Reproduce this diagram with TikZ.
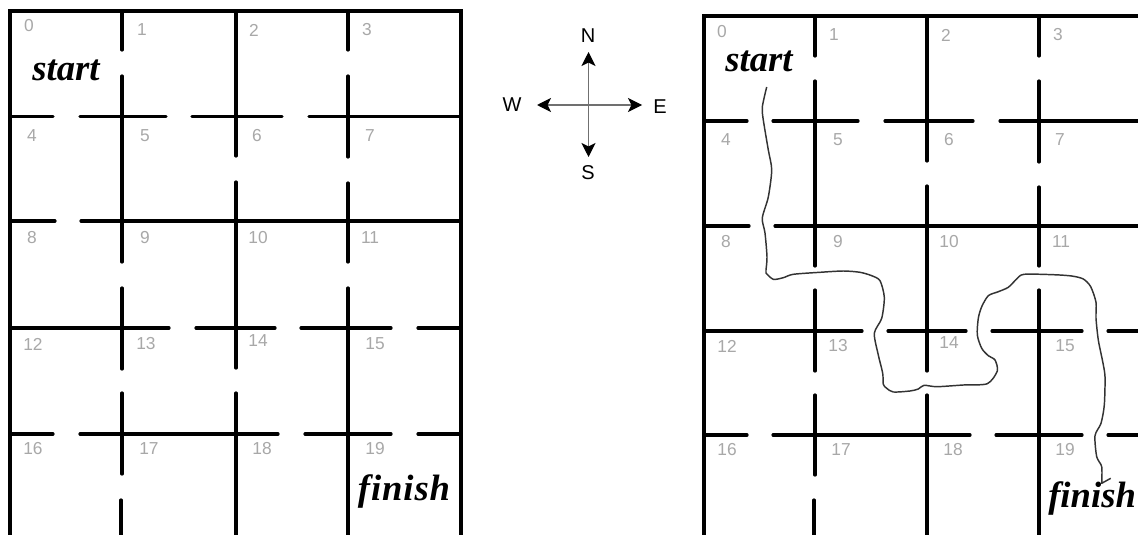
\documentclass[tikz,border=0pt]{standalone}
\usepackage{fontspec}
\setmainfont{Liberation Sans}
\newfontfamily\tagfont{Liberation Serif}
\newfontfamily\widetagfont[LetterSpace=2.5]{Liberation Serif}
\usetikzlibrary{arrows.meta}
\definecolor{ink}{HTML}{000000}
\definecolor{mute}{HTML}{A8A8A8}
\definecolor{trail}{HTML}{333333}
\definecolor{axis}{HTML}{707070}
\tikzset{
  wall/.style={ink,line width=2.4pt,line cap=round},
  cellno/.style={text=mute,font=\fontsize{13}{13}\selectfont,inner sep=0pt},
  tag/.style={text=ink,font=\tagfont\fontsize{27.5}{27.5}\selectfont\bfseries\itshape,inner sep=0pt,anchor=base},
  widetag/.style={tag,font=\widetagfont\fontsize{27.5}{27.5}\selectfont\bfseries\itshape},
  dirlabel/.style={text=ink,font=\fontsize{15}{15}\selectfont,inner sep=0pt},
  dirarrow/.style={axis,line width=0.9pt,-{Stealth[ink,length=10.5pt,width=10.5pt,inset=2.6pt]}}
}
\begin{document}
\begin{tikzpicture}[x=0.75pt,y=-0.75pt]
\useasboundingbox (0,0) rectangle (1138,535);
\fill[white] (0,0) rectangle (1138,535);
\draw[wall] (10,535) -- (10,11) -- (461,11) -- (461,535);
\foreach \y/\a/\b in {116.5/10/53,116.5/80/166,116.5/192/282,116.5/309/461,
    221/10/55,221/81/461,
    328/10/169,328/196/275,328/301/391,328/418/461,
    434/10/53,434/80/278,434/305/391,434/418/461}{
  \draw[wall] (\a,\y) -- (\b,\y);
}
\foreach \x/\a/\b in {122/11/50,122/76/262,122/288/369,122/393/474,121/500/535,
    236/11/156,236/182/368,236/393/535,
    348/11/50,348/76/157,348/183/262,348/288/535}{
  \draw[wall] (\x,\a) -- (\x,\b);
}
\foreach \n/\x/\y in {0/29/26,1/142/30,2/254/30,3/367/30,4/32/136,5/145/136,6/257/136,7/370/136,
    8/32/238,9/145/238,10/258/238,11/370/238,12/33/344,13/146/344,14/258/341,15/375/344,
    16/33/449,17/149/449,18/262/449,19/375/449}{
  \node[cellno] (lcell\n) at (\x,\y) {\n};
}
\node[tag] (lstart) at (66,80) {start};
\node[widetag] (lfinish) at (404,500) {finish};
\coordinate (hub) at (588.5,105);
\coordinate (tipn) at (588.5,52);
\coordinate (tips) at (588.5,157);
\coordinate (tipw) at (537,105);
\coordinate (tipe) at (642,105);
\foreach \t in {tipn,tips,tipw,tipe}{
  \draw[dirarrow] (hub) -- (\t);
}
\node[dirlabel] (north) at (588,36) {N};
\node[dirlabel] (south) at (588,173) {S};
\node[dirlabel] (west) at (512,105) {W};
\node[dirlabel] (east) at (660,107) {E};
\draw[wall] (704,535) -- (704,16) -- (1145,16);
\foreach \y/\a/\b in {121/704/747,121/773/858,121/885/973,121/1000/1145,
    226/704/749,226/775/1145,
    331/704/862,331/888/966,331/992/1082,331/1108/1145,
    435/704/747,435/773/970,435/996/1082,435/1108/1145}{
  \draw[wall] (\a,\y) -- (\b,\y);
}
\foreach \x/\a/\b in {815/16/56,815/81/266,815/290/371,815/395/475,814/500/540,
    927/16/161,927/186/371,927/395/540,
    1039/16/56,1039/81/162,1039/187/266,1039/290/540}{
  \draw[wall] (\x,\a) -- (\x,\b);
}
\foreach \n/\x/\y in {0/722/32,1/834/35,2/946/35,3/1058/35,4/726/140,5/838/140,6/949/140,7/1060/140,
    8/726/242,9/838/242,10/949/242,11/1061/242,12/727/346,13/838/346,14/949/343,15/1065/346,
    16/727/450,17/841/450,18/953/450,19/1065/450}{
  \node[cellno] (rcell\n) at (\x,\y) {\n};
}
\node[tag] (rstart) at (759,72) {start};
\node[tag,anchor=base west] (rfinish) at (1048,507) {finish};
\draw[trail,line width=1.1pt,line join=round] plot[smooth,tension=0.45] coordinates {
    (766.7,87) (762.3,107) (763.3,120) (768.3,150) (771.7,170) (768.3,197) (762.3,218)
    (765,233) (767,257) (766,270) (766,273) (773.3,279.3) (783.3,277.7) (793.3,274.3)
    (820,272.3) (843.3,271) (860,272.3) (871.7,275.7) (880,280.7) (884.3,297.3) (881.7,318.3)
    (874.3,333.3) (878.3,355) (882.7,373.3) (883.3,384.3) (886.7,388.3) (893.3,392) (910,391)
    (918.3,389) (924,385.3) (936.7,386.7) (963.3,385) (987.3,383.7) (997.3,371) (995,360)
    (988.3,355.7) (981.7,348.3) (977.3,335) (978.3,318.3) (981.7,306.7) (988.3,295.7) (998.3,291.7)
    (1008.3,287.3) (1016.7,279) (1024,274.3) (1053.3,274.7) (1071.7,276) (1083.3,279) (1090.7,286.7)
    (1096,302.3) (1096,318.3) (1098.3,340) (1102.7,361.7) (1105,376.7) (1104.3,405) (1101,423.3)
    (1095,435.7) (1096.7,456.7) (1101.7,466.7) (1101.7,483.3)} -- (1110.7,478.3);
\end{tikzpicture}
\end{document}
